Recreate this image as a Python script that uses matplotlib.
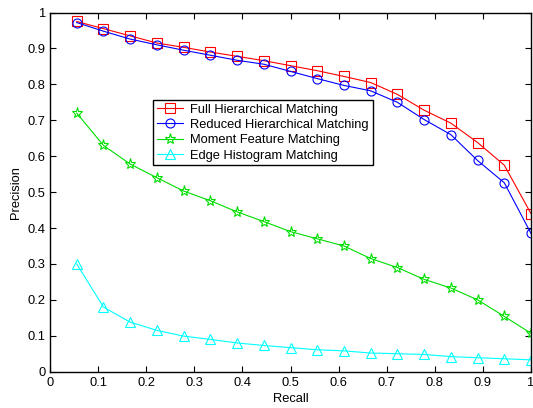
import matplotlib
matplotlib.use('Agg')
import matplotlib.pyplot as plt
import numpy as np

plt.rcParams['font.family'] = ['Liberation Sans', 'DejaVu Sans']

# recall levels (18 points)
recall = [1/18, 2/18, 3/18, 4/18, 5/18, 6/18, 7/18, 8/18, 9/18,
          10/18, 11/18, 12/18, 13/18, 14/18, 15/18, 16/18, 17/18, 1.0]

full_hier = [0.975, 0.955, 0.935, 0.915, 0.903, 0.890, 0.878, 0.866, 0.852,
             0.838, 0.822, 0.805, 0.772, 0.728, 0.692, 0.638, 0.575, 0.440]
reduced_hier = [0.972, 0.948, 0.926, 0.910, 0.895, 0.881, 0.867, 0.856, 0.836,
                0.816, 0.797, 0.782, 0.750, 0.702, 0.660, 0.588, 0.526, 0.385]
moment = [0.720, 0.630, 0.578, 0.540, 0.503, 0.476, 0.445, 0.418, 0.390,
          0.370, 0.350, 0.315, 0.290, 0.257, 0.233, 0.200, 0.154, 0.107]
edge_hist = [0.300, 0.180, 0.138, 0.115, 0.099, 0.090, 0.080, 0.073, 0.067,
             0.061, 0.058, 0.052, 0.050, 0.048, 0.042, 0.039, 0.036, 0.033]

labels = ["Full Hierarchical Matching", "Reduced Hierarchical Matching",
          "Moment Feature Matching", "Edge Histogram Matching"]

fs = 9.3

fig = plt.figure(figsize=(5.33, 4.08), dpi=100)
ax = fig.add_axes([50/533, 1 - 371.7/408, 481/533, 359.2/408])

ms = 6.5
lw = 0.8
ax.plot(recall, full_hier, color='#ff0000', marker='s', mfc='none', ms=ms, lw=lw, mew=0.8, label=labels[0])
ax.plot(recall, reduced_hier, color='#0000ff', marker='o', mfc='none', ms=ms, lw=lw, mew=0.8, label=labels[1])
ax.plot(recall, moment, color='#00dd00', marker='*', mfc='none', ms=ms + 1.5, lw=lw, mew=0.8, label=labels[2])
ax.plot(recall, edge_hist, color='#00ffff', marker='^', mfc='none', ms=ms + 1, lw=lw, mew=0.8, label=labels[3])

ax.set_xlim(0, 1)
ax.set_ylim(0, 1)
ticks = np.arange(0, 1.01, 0.1)
ticklabels = ['0', '0.1', '0.2', '0.3', '0.4', '0.5', '0.6', '0.7', '0.8', '0.9', '1']
ax.set_xticks(ticks)
ax.set_xticklabels(ticklabels)
ax.set_yticks(ticks)
ax.set_yticklabels(ticklabels)
ax.tick_params(direction='in', top=True, right=True, labelsize=fs, length=4, width=0.8)
ax.tick_params(axis='y', pad=3)
for s in ax.spines.values():
    s.set_linewidth(1.0)

ax.set_xlabel("Recall", fontsize=fs, labelpad=3)
ax.set_ylabel("Precision", fontsize=fs, labelpad=4)

leg = ax.legend(loc='upper left', bbox_to_anchor=(0.214, 0.757), fontsize=fs,
                fancybox=False, framealpha=1, edgecolor='black',
                borderpad=0.3, labelspacing=0.25, handlelength=2.0,
                handletextpad=0.6, borderaxespad=0)
leg.get_frame().set_linewidth(1.0)

fig.savefig("out.png", dpi=100)
